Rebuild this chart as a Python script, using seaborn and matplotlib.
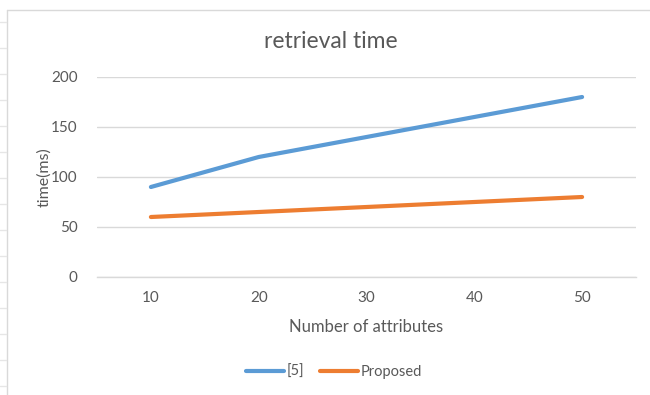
import matplotlib
matplotlib.use("Agg")
import matplotlib.pyplot as plt
import seaborn as sns
import pandas as pd
from matplotlib.lines import Line2D

# values
attributes = [10, 20, 30, 40, 50]
ref5_times = [90, 120, 140, 160, 180]
proposed_times = [60, 65, 70, 75, 80]
series_names = ["[5]", "Proposed"]
y_ticks = [0, 50, 100, 150, 200]

df = pd.DataFrame({
    "attributes": attributes * 2,
    "time": ref5_times + proposed_times,
    "method": [series_names[0]] * len(attributes) + [series_names[1]] * len(attributes),
})

sns.set_style("white")
plt.rcParams["font.family"] = ["Lato", "DejaVu Sans"]

text_gray = "#595959"
grid_gray = "#d9d9d9"
colors = {"[5]": "#5B9BD5", "Proposed": "#ED7D31"}

fig = plt.figure(figsize=(6.5, 3.95), dpi=100)
ax = fig.add_axes([97 / 650, 1 - 277 / 395, (636 - 97) / 650, 200 / 395])

sns.lineplot(data=df, x="attributes", y="time", hue="method", palette=colors,
             linewidth=3, ax=ax, legend=False)
for ln in ax.lines:
    ln.set_solid_capstyle("round")
    ln.set_solid_joinstyle("round")

ax.set_xlim(5, 55)
ax.set_ylim(0, 200)
ax.set_xticks(attributes)
ax.set_yticks(y_ticks)
ax.yaxis.grid(True, color=grid_gray, linewidth=1)
ax.set_axisbelow(True)
for s in ["top", "right", "left"]:
    ax.spines[s].set_visible(False)
ax.spines["bottom"].set_color(grid_gray)
ax.spines["bottom"].set_linewidth(1)
ax.tick_params(axis="both", length=0, labelsize=11, labelcolor=text_gray)
ax.tick_params(axis="y", pad=14)
ax.tick_params(axis="x", pad=10)

ax.set_xlabel("Number of attributes", fontsize=12, color=text_gray, labelpad=10)
ax.set_ylabel("time(ms)", fontsize=11.5, color=text_gray, labelpad=0)
fig.text(331 / 650, 1 - 42 / 395, "retrieval time", ha="center", va="center",
         fontsize=16.5, color=text_gray)

handles = [Line2D([], [], color=colors[n], linewidth=3, solid_capstyle="round")
           for n in series_names]
fig.legend(handles, series_names, loc="center", bbox_to_anchor=(334 / 650, 1 - 372 / 395),
           ncol=2, frameon=False, fontsize=10.5, labelcolor=text_gray,
           handlelength=2.6, handletextpad=0.2, columnspacing=1.1)

# chart area border and spreadsheet row ticks on the left
fig.add_artist(Line2D([7 / 650, 1], [1 - 10 / 395] * 2, color=grid_gray, linewidth=1,
                      transform=fig.transFigure))
fig.add_artist(Line2D([7 / 650] * 2, [0, 1 - 10 / 395], color=grid_gray, linewidth=1,
                      transform=fig.transFigure))
for yy in range(22, 395, 26):
    fig.add_artist(Line2D([0, 6 / 650], [1 - yy / 395] * 2, color="#e6e6e6",
                          linewidth=1, transform=fig.transFigure))

fig.savefig("out.png", dpi=100, facecolor="white")
